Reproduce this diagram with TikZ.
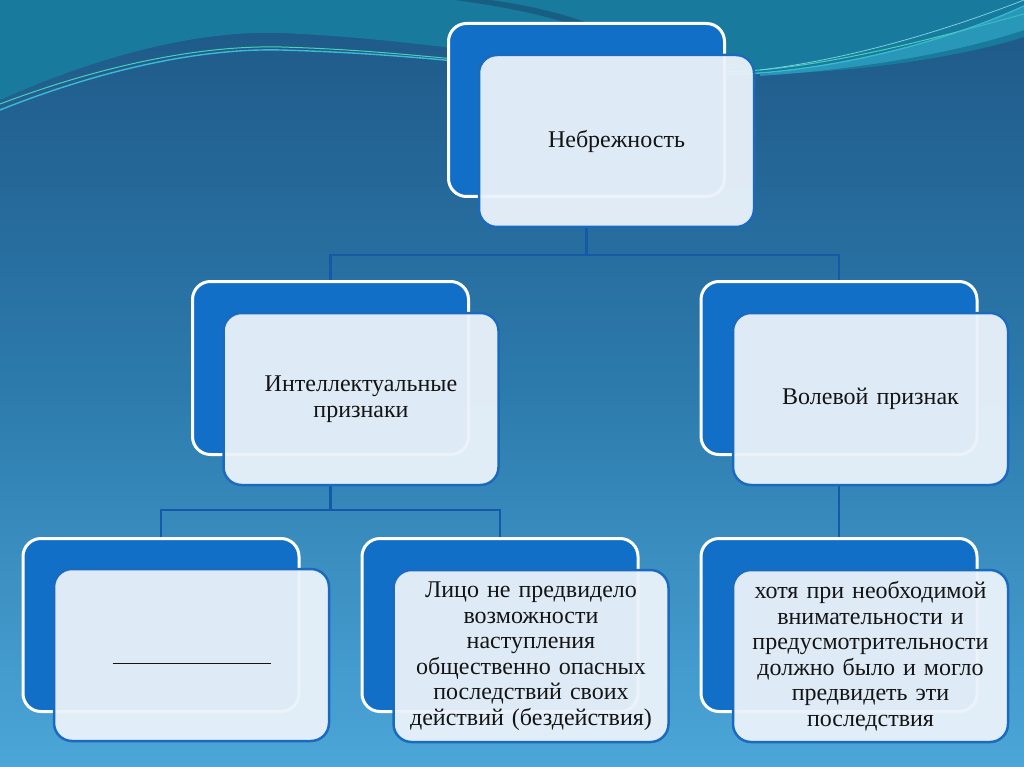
\documentclass[tikz,border=0pt]{standalone}
\usepackage{fontspec}
\setmainfont{Liberation Serif}
\pgfdeclarelayer{bg}
\pgfdeclarelayer{edges}
\pgfsetlayers{bg,edges,main}
\definecolor{backblue}{RGB}{17,111,199}
\definecolor{frontfill}{RGB}{234,242,250}
\definecolor{frontborder}{RGB}{26,106,192}
\definecolor{linkc}{RGB}{20,90,168}
\definecolor{textc}{RGB}{20,20,20}
\definecolor{bgtop}{RGB}{30,88,134}
\definecolor{bgmid}{RGB}{44,122,172}
\definecolor{bgbot}{RGB}{76,166,216}
\definecolor{teal}{RGB}{24,122,156}
\definecolor{wavecyan}{RGB}{60,185,215}
\definecolor{wavegreen}{RGB}{70,210,180}
\begin{document}
\begin{tikzpicture}[x=1pt,y=-1pt,
  backbox/.style={draw=white, line width=3pt, fill=backblue, rounded corners=18pt,
    minimum width=276pt, minimum height=173pt, inner sep=0pt, outer sep=0pt},
  frontbox/.style={draw=frontborder, line width=2.5pt, fill=frontfill, fill opacity=0.95,
    text opacity=1, rounded corners=18pt, minimum width=275pt, minimum height=172pt,
    inner sep=0pt, outer sep=0pt, align=center, text width=262pt,
    font=\fontsize{24}{25.5}\selectfont, text=textc},
  link/.style={draw=linkc, line width=2.6pt}]
\useasboundingbox (0,0) rectangle (1024,767);
\begin{pgfonlayer}{bg}
  \shade[top color=bgtop, bottom color=bgbot, middle color=bgmid] (0,0) rectangle (1024,767);
  \fill[teal] (0,100) .. controls (100,55) and (200,30) .. (281,33)
     .. controls (350,36) and (400,42) .. (444,47)
     .. controls (600,65) and (700,76) .. (770,74)
     .. controls (850,72) and (950,60) .. (1024,37) -- (1024,0) -- (0,0) -- cycle;
  \fill[bgtop!85!black, opacity=0.6] (455,0) .. controls (500,6) and (540,14) .. (570,24)
     -- (590,24) .. controls (560,12) and (520,4) .. (490,0) -- cycle;
  \draw[wavecyan, line width=1.4pt] (0,110) .. controls (100,70) and (200,48) .. (281,50)
     .. controls (350,52) and (400,56) .. (444,60)
     .. controls (600,72) and (700,78) .. (760,73)
     .. controls (850,66) and (950,40) .. (1024,6);
  \draw[wavegreen, line width=1pt] (0,104) .. controls (100,66) and (200,45) .. (281,47)
     .. controls (350,49) and (400,54) .. (444,58)
     .. controls (600,70) and (700,75) .. (760,70)
     .. controls (850,62) and (950,34) .. (1024,14);
  \fill[wavecyan!80!teal, opacity=0.6] (760,74) .. controls (850,66) and (950,40) .. (1024,6)
     -- (1024,30) .. controls (950,55) and (850,70) .. (760,76) -- cycle;
  \draw[wavecyan!70!white, line width=0.8pt] (760,70) .. controls (860,58) and (960,25) .. (1024,0);
\end{pgfonlayer}

% back boxes
\node[backbox] (topb) at (586.5,110) {};
\node[backbox] (mlb) at (330.5,368) {};
\node[backbox] (mrb) at (839,368) {};
\node[backbox] (blb) at (161,625) {};
\node[backbox] (bmb) at (500,625) {};
\node[backbox] (brb) at (839,625) {};

% front boxes
\node[frontbox] (topf) at (616.5,141) {Небрежность};
\node[frontbox] (mlf) at (361,399) {Интеллектуальные\\признаки};
\node[frontbox] (mrf) at (870.5,399) {Волевой признак};
\node[frontbox] (blf) at (191.5,655) {\rule{0pt}{18pt}\rule{158pt}{0.7pt}};
\node[frontbox] (bmf) at (531,656) {Лицо не предвидело\\возможности\\наступления\\общественно опасных\\последствий своих\\действий (бездействия)};
\node[frontbox] (brf) at (870.5,656) {хотя при необходимой\\внимательности и\\предусмотрительности\\должно было и могло\\предвидеть эти\\последствия};

% connectors
\begin{pgfonlayer}{edges}
  \draw[link] (topb.south |- topf.south) -- ++(0,28) -| (mlb.north);
  \draw[link] (topb.south |- topf.south) -- ++(0,28) -| (mrb.north);
  \draw[link] (mlb.south |- mlf.south) -- ++(0,25) -| (blb.north);
  \draw[link] (mlb.south |- mlf.south) -- ++(0,25) -| (bmb.north);
  \draw[link] (mrb.south |- mrf.south) -- (brb.north);
\end{pgfonlayer}
\end{tikzpicture}
\end{document}
